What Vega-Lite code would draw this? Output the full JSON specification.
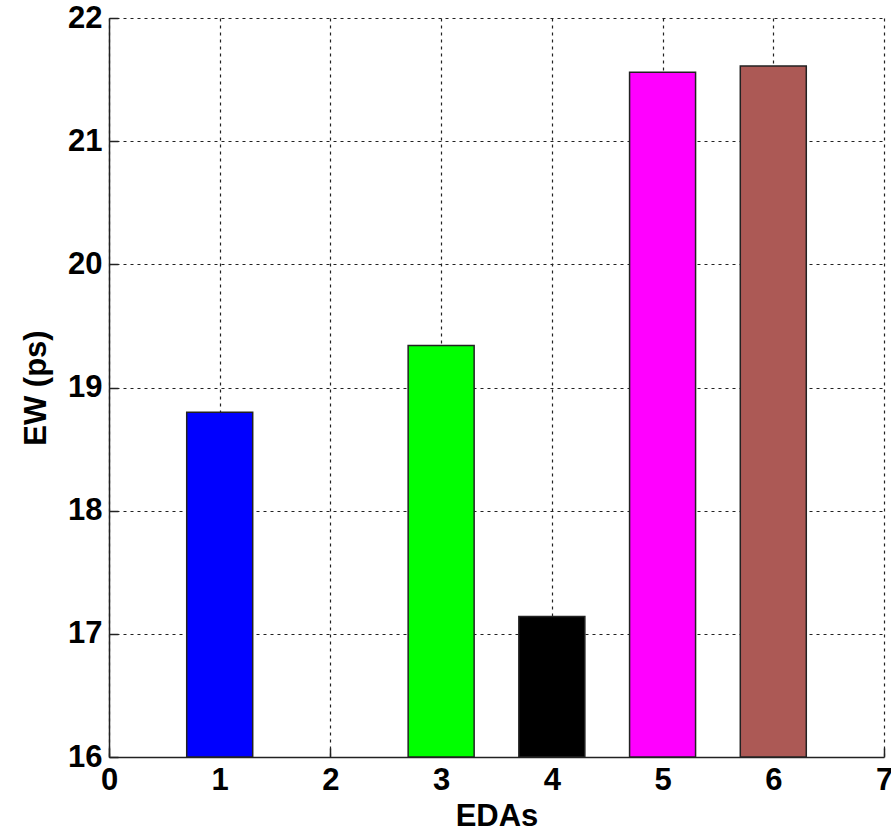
{
  "$schema": "https://vega.github.io/schema/vega-lite/v6.json",
  "width": 775,
  "height": 739,
  "autosize": {"type": "none"},
  "padding": {"left": 109, "top": 18, "right": 7, "bottom": 79},
  "background": "white",
  "config": {
    "view": {"stroke": null},
    "font": "Liberation Sans",
    "axis": {
      "labelFont": "Liberation Sans",
      "labelFontSize": 31,
      "labelFontWeight": "bold",
      "labelColor": "black",
      "titleFont": "Liberation Sans",
      "titleFontSize": 31,
      "titleFontWeight": "bold",
      "titleColor": "black",
      "domainColor": "#222222",
      "domainWidth": 1.5,
      "tickColor": "#222222",
      "tickSize": -9,
      "tickWidth": 1.5,
      "grid": true,
      "gridColor": "#222222",
      "gridDash": [3, 4],
      "gridWidth": 1.2,
      "gridOpacity": 1
    }
  },
  "data": {
    "values": [
      {"eda": 1, "ew": 18.8, "color": "#0000FF"},
      {"eda": 3, "ew": 19.34, "color": "#00FF00"},
      {"eda": 4, "ew": 17.14, "color": "#000000"},
      {"eda": 5, "ew": 21.56, "color": "#FF00FF"},
      {"eda": 6, "ew": 21.61, "color": "#AC5955"}
    ]
  },
  "mark": {"type": "bar", "size": 66, "stroke": "#222222", "strokeWidth": 1.5, "clip": true},
  "encoding": {
    "x": {
      "field": "eda",
      "type": "quantitative",
      "title": "EDAs",
      "scale": {"domain": [0, 7], "nice": false, "zero": false, "padding": 0},
      "axis": {"values": [0, 1, 2, 3, 4, 5, 6, 7], "labelPadding": 17, "titlePadding": 6, "labelFlush": false}
    },
    "y": {
      "field": "ew",
      "type": "quantitative",
      "title": "EW (ps)",
      "scale": {"domain": [16, 22], "nice": false, "zero": false, "padding": 0},
      "axis": {"values": [16, 17, 18, 19, 20, 21, 22], "labelPadding": 16, "titlePadding": 15, "labelFlush": false}
    },
    "y2": {"datum": 16},
    "color": {"field": "color", "type": "nominal", "scale": null, "legend": null}
  }
}
